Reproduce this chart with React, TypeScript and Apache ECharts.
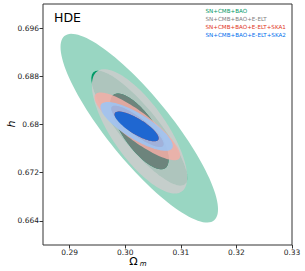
import React, { useEffect, useRef } from "react";
import * as echarts from "echarts";

// Contour sets (Gaussian approximation): center, marginal 1-sigma widths, correlation
const setNames = ["SN+CMB+BAO", "SN+CMB+BAO+E-ELT", "SN+CMB+BAO+E-ELT+SKA1", "SN+CMB+BAO+E-ELT+SKA2"];
const centerOm = [0.30252, 0.30257, 0.30219, 0.30204];
const centerH = [0.67939, 0.67886, 0.67969, 0.67968];
const sigmaOm = [0.0057, 0.00345, 0.0031, 0.00262];
const sigmaH = [0.0063, 0.00415, 0.00226, 0.00163];
const rhoOmH = [-0.86, -0.74, -0.86, -0.8];
const darkColors = ["#009966", "#808080", "#E03424", "#006FED"];
const paleColors = ["#99d6c2", "#cccccc", "#f3aea7", "#99c5f8"];
const labelColors = ["#009966", "#808080", "#E03424", "#006FED"];
const fillAlpha = [1, 0.85, 0.85, 0.85];
// radii of 68% and 95% 2D contours (sqrt of chi2 with 2 dof)
const levelK = [Math.sqrt(2.3), Math.sqrt(6.18)];

const xTicks = [0.29, 0.3, 0.31, 0.32, 0.33];
const xTickLabels = ["0.29", "0.30", "0.31", "0.32", "0.33"];
const yTicks = [0.664, 0.672, 0.68, 0.688, 0.696];
const yTickLabels = ["0.664", "0.672", "0.68", "0.688", "0.696"];

const FONT = "DejaVu Sans";

function ellipsePts(api: any, i: number, k: number, reverse: boolean) {
  const pts: number[][] = [];
  const n = 120;
  const r = rhoOmH[i];
  for (let j = 0; j <= n; j++) {
    const t = ((reverse ? n - j : j) / n) * Math.PI * 2;
    const x = centerOm[i] + k * sigmaOm[i] * Math.cos(t);
    const y = centerH[i] + k * sigmaH[i] * (r * Math.cos(t) + Math.sqrt(1 - r * r) * Math.sin(t));
    pts.push(api.coord([x, y]));
  }
  return pts;
}

function toPath(pts: number[][]) {
  return "M" + pts.map((p) => p[0].toFixed(2) + " " + p[1].toFixed(2)).join("L") + "Z";
}

export default function App() {
  const ref = useRef<HTMLDivElement>(null);
  useEffect(() => {
    if (!ref.current) return;
    document.body.style.margin = "0";
    const chart = echarts.init(ref.current, null, { renderer: "svg" });
    const series = setNames.map((name, i) => ({
      type: "custom",
      name,
      coordinateSystem: "cartesian2d",
      data: [[centerOm[i], centerH[i]]],
      silent: true,
      z: 2 + i,
      renderItem: (_params: any, api: any) => {
        const outer = ellipsePts(api, i, levelK[1], false);
        const innerRev = ellipsePts(api, i, levelK[0], true);
        const inner = ellipsePts(api, i, levelK[0], false);
        return {
          type: "group",
          children: [
            {
              type: "path",
              shape: { pathData: toPath(outer) + toPath(innerRev) },
              style: { fill: paleColors[i], opacity: fillAlpha[i] },
            },
            {
              type: "path",
              shape: { pathData: toPath(inner) },
              style: { fill: darkColors[i], opacity: fillAlpha[i] },
            },
          ],
        };
      },
    }));
    chart.setOption({
      animation: false,
      grid: {
        left: 43,
        right: 13,
        top: 4,
        bottom: 26,
        show: true,
        borderColor: "#333",
        borderWidth: 1,
        backgroundColor: "transparent",
      },
      xAxis: {
        type: "value",
        min: 0.2852,
        max: 0.33,
        splitLine: { show: false },
        axisLine: { show: false },
        axisTick: { show: true, length: 3.5, inside: false, lineStyle: { color: "#333" }, customValues: xTicks },
        axisLabel: {
          customValues: xTicks,
          formatter: (v: number) => xTickLabels[xTicks.findIndex((t) => Math.abs(t - v) < 1e-9)] ?? "",
          fontSize: 7.5,
          fontFamily: FONT,
          color: "#222",
          margin: 3,
        },
      },
      yAxis: {
        type: "value",
        min: 0.66,
        max: 0.7,
        splitLine: { show: false },
        axisLine: { show: false },
        axisTick: { show: true, length: 3.5, inside: false, lineStyle: { color: "#333" }, customValues: yTicks },
        axisLabel: {
          customValues: yTicks,
          formatter: (v: number) => yTickLabels[yTicks.findIndex((t) => Math.abs(t - v) < 1e-9)] ?? "",
          fontSize: 7.5,
          fontFamily: FONT,
          color: "#222",
          margin: 4,
        },
      },
      graphic: [
        { type: "text", left: 54, top: 11, style: { text: "HDE", fontSize: 12.5, fontFamily: FONT, fill: "#000" } },
        ...setNames.map((name, i) => ({
          type: "text",
          x: 205.5,
          y: 11 + i * 7.9,
          style: {
            text: name,
            fontSize: 5.6,
            fontFamily: FONT,
            fill: labelColors[i],
            verticalAlign: "middle",
            align: "left",
          },
        })),
        {
          type: "text",
          x: 11.5,
          y: 124,
          rotation: Math.PI / 2,
          style: { text: "h", fontSize: 11, fontStyle: "italic", fontFamily: FONT, fill: "#000", align: "center", verticalAlign: "middle" },
        },
        {
          type: "text",
          x: 129.3,
          y: 261,
          style: { text: "Ω", fontSize: 11, fontFamily: FONT, fill: "#000", align: "left", verticalAlign: "middle" },
        },
        {
          type: "text",
          x: 139.8,
          y: 264,
          style: { text: "m", fontSize: 7, fontStyle: "italic", fontFamily: FONT, fill: "#000", align: "left", verticalAlign: "middle" },
        },
      ],
      series,
    });
    return () => chart.dispose();
  }, []);
  return <div ref={ref} style={{ width: 305, height: 271, position: "absolute", left: 0, top: 0 }} />;
}
